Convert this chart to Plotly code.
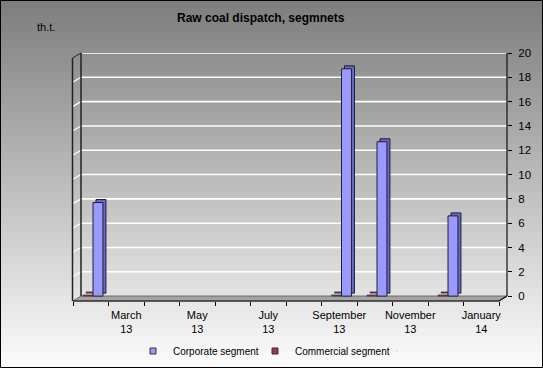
import plotly.graph_objects as go

# ---------------- data ----------------
MONTHS = ["February 13", "March 13", "April 13", "May 13", "June 13", "July 13",
          "August 13", "September 13", "October 13", "November 13", "December 13", "January 14"]
CORPORATE = [7.7, 0, 0, 0, 0, 0, 0, 18.7, 12.7, 0, 6.6, 0]
COMMERCIAL = [0.1, 0, 0, 0, 0, 0, 0, 0.1, 0.1, 0, 0.1, 0]
Y_TICKS = [0, 2, 4, 6, 8, 10, 12, 14, 16, 18, 20]
LABEL_IDX = [1, 3, 5, 7, 9, 11]

# ---------------- geometry helpers (styling only) ----------------
W, H = 543, 368
L, R, T, B = 73, 36, 53, 67
DW, DH = W - L - R, H - T - B
YMIN, YMAX = -0.4, 20
UNIT = 35.5                      # px per category
X0 = -(93 - L) / UNIT            # left edge of domain in data units
X1 = X0 + DW / UNIT


def px(p):
    return (p - L) / DW


def py(p):
    return (H - B - p) / DH


ypx = (YMAX - YMIN) / DH          # data units per px on y
xpx = 1 / UNIT                    # data units per px on x

idx = list(range(len(MONTHS)))
BW = 0.28
DX, DY = 3 * xpx, 3 * ypx


def nz(vals):
    return [v if v else None for v in vals]


fig = go.Figure()

# 3D depth copies (drawn first, behind)
fig.add_trace(go.Bar(x=idx, y=nz(COMMERCIAL), base=DY, offset=-BW + DX, width=BW,
                     marker=dict(color="#7a2850", line=dict(color="#333333", width=0.6)),
                     showlegend=False, hoverinfo="skip"))
fig.add_trace(go.Bar(x=idx, y=nz(CORPORATE), base=DY, offset=DX, width=BW,
                     marker=dict(color="#6767d0", line=dict(color="#222222", width=1)),
                     showlegend=False, hoverinfo="skip"))
# front faces
fig.add_trace(go.Bar(x=idx, y=nz(COMMERCIAL), offset=-BW, width=BW, name="Commercial segment",
                     marker=dict(color="#993366", line=dict(color="#333333", width=0.6)),
                     showlegend=False))
fig.add_trace(go.Bar(x=idx, y=nz(CORPORATE), offset=0, width=BW, name="Corporate segment",
                     marker=dict(color="#9999ff", line=dict(color="#222222", width=1)),
                     showlegend=False))

# legend entries
fig.add_trace(go.Scatter(x=[None], y=[None], mode="markers", name="Corporate segment",
                         marker=dict(symbol="square", size=6, color="#9999ff",
                                     line=dict(color="#333333", width=1))))
fig.add_trace(go.Scatter(x=[None], y=[None], mode="markers", name="Commercial segment",
                         marker=dict(symbol="square", size=6, color="#993366",
                                     line=dict(color="#333333", width=1))))
# invisible spacer entry so the last legend text is not clipped
fig.add_trace(go.Scatter(x=[None], y=[None], mode="markers", name=" ",
                         marker=dict(size=1, opacity=0), hoverinfo="skip"))

shapes = []
# background gradient
NB = 46
for k in range(NB):
    t = k / (NB - 1)
    g = int(round(0x7e + (0xfb - 0x7e) * t))
    col = f"rgb({g},{g},{g})"
    y_top = k * H / NB
    y_bot = (k + 1) * H / NB + 0.6
    shapes.append(dict(type="rect", xref="paper", yref="paper", layer="below",
                       x0=px(0), x1=px(W), y0=py(y_bot), y1=py(y_top),
                       fillcolor=col, line=dict(width=0)))

# back-wall gridlines and left-wall diagonals
for t in Y_TICKS[1:]:
    shapes.append(dict(type="line", xref="paper", yref="y", layer="below",
                       x0=px(81), x1=px(507), y0=t, y1=t,
                       line=dict(color="white", width=1.6)))
    shapes.append(dict(type="line", xref="paper", yref="y", layer="below",
                       x0=px(72.5), x1=px(81), y0=t - 5 * ypx, y1=t,
                       line=dict(color="white", width=1.2)))

# floor
shapes.append(dict(type="path", xref="paper", yref="paper", layer="below",
                   path=f"M {px(73)},{py(301)} L {px(81)},{py(296)} L {px(507)},{py(296)} "
                        f"L {px(499)},{py(301)} Z",
                   fillcolor="#a4a4a4", line=dict(color="#555555", width=0.8)))
# wall edges
for (xa, ya, xb, yb, c, w) in [
    (72.5, 301, 72.5, 58, "#222222", 1.5),
    (81, 296, 81, 53, "#222222", 1.5),
    (72.5, 58, 81, 53, "#222222", 1.2),
    (507, 296, 507, 53, "#111111", 1.2),
    (73, 301, 499, 301, "#111111", 1.2),
    (499, 301, 507, 296, "#111111", 1.2),
]:
    shapes.append(dict(type="line", xref="paper", yref="paper", layer="below",
                       x0=px(xa), y0=py(ya), x1=px(xb), y1=py(yb),
                       line=dict(color=c, width=w)))
# outer border
shapes.append(dict(type="rect", xref="paper", yref="paper", layer="above",
                   x0=px(0.5), x1=px(W - 0.5), y0=py(H - 0.5), y1=py(0.5),
                   line=dict(color="#000000", width=1)))

fig.update_layout(
    width=W, height=H,
    margin=dict(l=L, r=R, t=T, b=B, pad=0, autoexpand=False),
    paper_bgcolor="#c0c0c0",
    plot_bgcolor="rgba(0,0,0,0)",
    barmode="overlay",
    font=dict(family="Arial, Liberation Sans, sans-serif", size=11, color="#000000"),
    shapes=shapes,
    showlegend=True,
    legend=dict(orientation="h", x=px(133), xanchor="left", y=py(351), yanchor="middle",
                font=dict(size=10, color="#000000"), bgcolor="rgba(0,0,0,0)",
                itemwidth=30, tracegroupgap=0, entrywidth=77, entrywidthmode="pixels"),
    annotations=[
        dict(text="<b>Raw coal dispatch, segmnets</b>", xref="paper", yref="paper",
             x=px(261), y=py(18), xanchor="center", yanchor="middle",
             showarrow=False, font=dict(size=12, color="#000000")),
        dict(text="th.t.", xref="paper", yref="paper", x=px(46), y=py(27),
             xanchor="center", yanchor="middle",
             showarrow=False, font=dict(size=11, color="#000000")),
    ],
)

fig.update_xaxes(
    range=[X0, X1], showgrid=False, zeroline=False, showline=False,
    tickmode="array",
    tickvals=[i - 0.063 for i in LABEL_IDX],
    ticktext=[MONTHS[i].replace(" ", "<br>") for i in LABEL_IDX],
    ticks="", ticklabelstandoff=6,
    minor=dict(tickmode="array", tickvals=[k + X0 for k in range(len(MONTHS) + 1)],
               ticks="outside", ticklen=4, tickcolor="#000000", tickwidth=1, showgrid=False),
    tickfont=dict(size=11),
)
fig.update_yaxes(
    range=[YMIN, YMAX], side="right", showgrid=False, zeroline=False, showline=False,
    tickmode="array", tickvals=Y_TICKS, ticks="outside", ticklen=4,
    tickcolor="#000000", tickwidth=1, tickfont=dict(size=11.5), ticklabelstandoff=4,
)

fig.write_html("out.html", config={"displayModeBar": False},
               post_script="document.body.style.margin='0px';"
                           "document.body.style.overflow='hidden';")
